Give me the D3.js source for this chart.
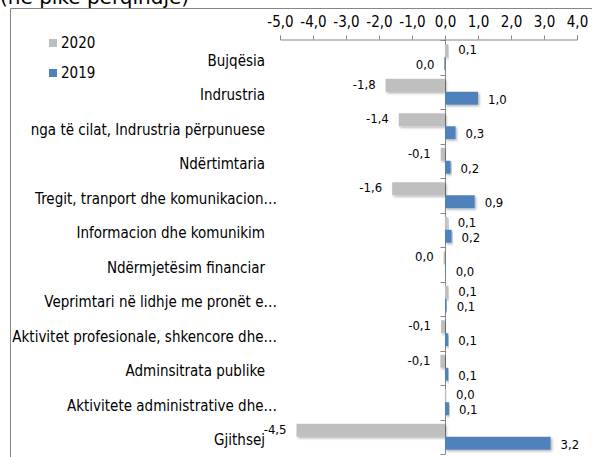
<!DOCTYPE html>
<html>
<head>
	<meta charset="utf-8">
	<title></title>
	<script src="https://d3js.org/d3.v7.min.js"></script>
	<style>
		body { margin: 0; background: #fff; }
		svg { display: block; }
		text { font-family: "DejaVu Sans Condensed", "DejaVu Sans", sans-serif; fill: #000; }
	</style>
</head>
<body>

<script>

var width = 592
var height = 457

// data
var categories = [
	"Bujqësia",
	"Indrustria",
	"nga të cilat, Indrustria përpunuese",
	"Ndërtimtaria",
	"Tregit, tranport dhe komunikacion…",
	"Informacion dhe komunikim",
	"Ndërmjetësim financiar",
	"Veprimtari në lidhje me pronët e…",
	"Aktivitet profesionale, shkencore dhe…",
	"Adminsitrata publike",
	"Aktivitete administrative dhe…",
	"Gjithsej"
]
var series = ["2020", "2019"]
var values2020 = [0.1, -1.8, -1.4, -0.13, -1.6, 0.08, -0.04, 0.1, -0.12, -0.14, 0.03, -4.5]
var values2019 = [-0.02, 1.0, 0.32, 0.17, 0.9, 0.2, 0.02, 0.05, 0.1, 0.1, 0.12, 3.2]
var xTicks = [-5, -4, -3, -2, -1, 0, 1, 2, 3, 4]
var title = "(në pikë përqindje)"

var color = d3.scaleOrdinal().domain(series).range(["#bfbfbf", "#4f81bd"])
var axisColor = "#868686"

var locale = d3.formatLocale({decimal: ",", thousands: ".", grouping: [3], currency: ["", ""], minus: "-"})
var fmt = locale.format(".1f")

var svg = d3.select('body').append('svg')
	.attr('width', width)
	.attr('height', height)

// soft shadow like the excel bars
var defs = svg.append("defs")
defs.append("filter")
	.attr("id", "shadow")
	.attr("x", "-20%").attr("y", "-30%").attr("width", "140%").attr("height", "170%")
	.append("feDropShadow")
	.attr("dx", 1.5).attr("dy", 1.5).attr("stdDeviation", 1)
	.attr("flood-color", "#000").attr("flood-opacity", 0.3)

// title, mostly cut off at the top
svg.append("text")
	.attr("x", 0)
	.attr("y", 4)
	.style("font-family", "'DejaVu Sans', sans-serif")
	.style("font-size", "20px")
	.text(title)

// chart frame (only top and left visible)
svg.append("path")
	.attr("d", "M10.5," + height + "V8.5H" + width)
	.attr("fill", "none")
	.attr("stroke", axisColor)

var x = d3.scaleLinear().domain([-5, 4]).range([280, 577])

var y = d3.scaleBand()
	.domain(categories)
	.range([40, 454])
	.paddingInner(0.25)
	.paddingOuter(0.125)

var ySub = d3.scaleBand().domain(series).range([0, y.bandwidth()])

// top value axis
var xAxis = d3.axisTop(x)
	.tickValues(xTicks)
	.tickSize(4)
	.tickPadding(9)
	.tickFormat(fmt)

var gx = svg.append("g")
	.attr("transform", "translate(0,39.5)")
	.call(xAxis)
gx.selectAll("path, line").attr("stroke", axisColor)
gx.selectAll("text")
	.attr("fill", "#000")
	.style("font-family", "'DejaVu Sans Condensed', 'DejaVu Sans', sans-serif")
	.style("font-size", "15px")

// category axis at zero
var step = y.step()
var x0 = Math.round(x(0)) + 0.5
svg.append("line")
	.attr("x1", x0).attr("x2", x0)
	.attr("y1", 39.5).attr("y2", 454)
	.attr("stroke", axisColor)

svg.append("g").selectAll("line")
	.data(d3.range(categories.length + 1))
	.enter().append("line")
	.attr("x1", x0 - 5).attr("x2", x0)
	.attr("y1", function(i) { return Math.round(40 + i * step) + 0.5 })
	.attr("y2", function(i) { return Math.round(40 + i * step) + 0.5 })
	.attr("stroke", axisColor)

// category labels
svg.append("g").selectAll("text")
	.data(categories)
	.enter().append("text")
	.attr("x", function(d) { return d.slice(-1) == "…" ? 277 : 265 })
	.attr("y", function(d) { return y(d) + y.bandwidth() / 2 + 3 })
	.attr("dy", "0.35em")
	.attr("text-anchor", "end")
	.style("font-size", "15px")
	.text(function(d) { return d })

// bars
var rows = categories.map(function(c, i) {
	return [
		{cat: c, key: "2020", value: values2020[i]},
		{cat: c, key: "2019", value: values2019[i]}
	]
})

var groups = svg.append("g").selectAll("g")
	.data(rows)
	.enter().append("g")
	.attr("transform", function(d) { return "translate(0," + y(d[0].cat) + ")" })

groups.selectAll("rect")
	.data(function(d) { return d })
	.enter().append("rect")
	.attr("x", function(d) { return x(Math.min(0, d.value)) })
	.attr("y", function(d) { return ySub(d.key) })
	.attr("width", function(d) { return Math.abs(x(d.value) - x(0)) })
	.attr("height", ySub.bandwidth())
	.attr("fill", function(d) { return color(d.key) })
	.attr("filter", "url(#shadow)")

// value labels
groups.selectAll("text")
	.data(function(d) { return d })
	.enter().append("text")
	.attr("x", function(d) { return d.value < 0 ? x(d.value) - 10 : x(d.value) + 10 })
	.attr("y", function(d) { return ySub(d.key) + ySub.bandwidth() / 2 + (d.key == "2020" ? -1 : 1) })
	.attr("dy", "0.35em")
	.attr("text-anchor", function(d) { return d.value < 0 ? "end" : "start" })
	.style("font-size", "13px")
	.text(function(d) { return fmt(d.value) })

// legend
var legend = svg.append("g").selectAll("g")
	.data(series)
	.enter().append("g")
	.attr("transform", function(d, i) { return "translate(49," + (39 + i * 30) + ")" })

legend.append("rect")
	.attr("width", 8).attr("height", 8)
	.attr("fill", function(d) { return color(d) })

legend.append("text")
	.attr("x", 12)
	.attr("y", 4)
	.attr("dy", "0.35em")
	.style("font-size", "15px")
	.text(function(d) { return d })

</script>

</body>
</html>
